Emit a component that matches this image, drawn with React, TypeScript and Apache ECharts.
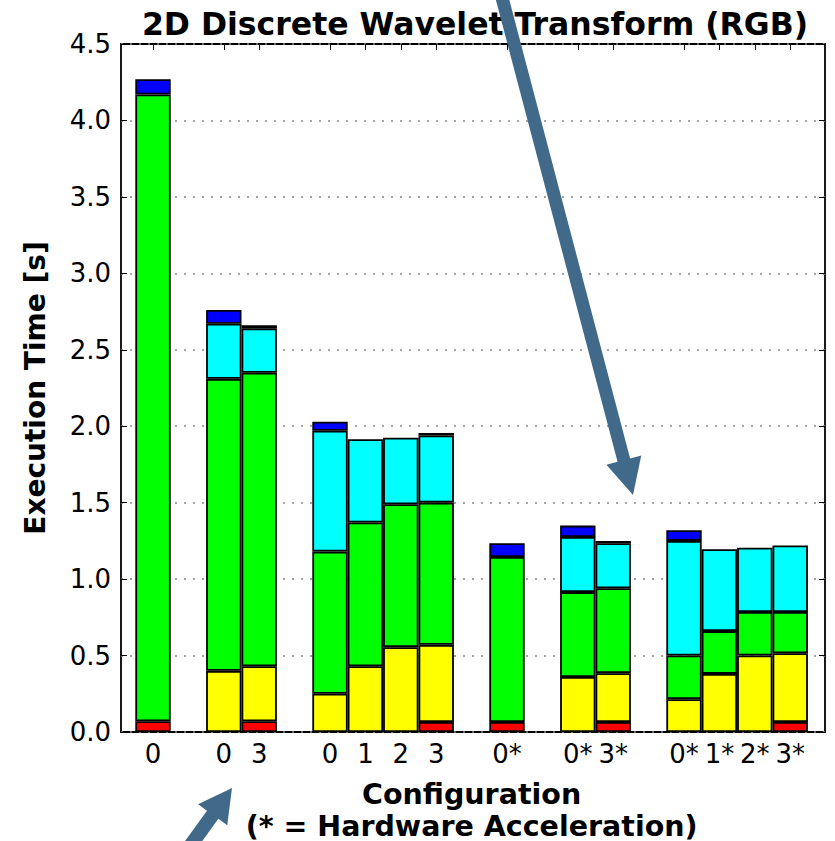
import React, { useEffect, useRef } from "react";
import * as echarts from "echarts";

const categories = ["0", "", "0", "3", "", "0", "1", "2", "3", "", "0*", "", "0*", "3*", "", "0*", "1*", "2*", "3*"];
const red = [0.07, null, null, 0.07, null, null, null, null, 0.065, null, 0.065, null, null, 0.065, null, null, null, null, 0.065];
const yellow = [null, null, 0.4, 0.36, null, 0.25, 0.43, 0.555, 0.505, null, null, null, 0.36, 0.32, null, 0.215, 0.38, 0.5, 0.45];
const green = [4.1, null, 1.91, 1.92, null, 0.93, 0.94, 0.935, 0.93, null, 1.08, null, 0.555, 0.555, null, 0.285, 0.28, 0.285, 0.27];
const cyan = [null, null, 0.36, 0.29, null, 0.79, 0.545, 0.435, 0.44, null, null, null, 0.36, 0.295, null, 0.75, 0.535, 0.42, 0.435];
const blue = [0.1, null, 0.09, 0.02, null, 0.06, null, null, 0.015, null, 0.09, null, 0.075, 0.015, null, 0.07, null, null, null];

const seriesDefs = [
  { name: "red", data: red, color: "#ff0000" },
  { name: "yellow", data: yellow, color: "#ffff00" },
  { name: "green", data: green, color: "#00ff00" },
  { name: "cyan", data: cyan, color: "#00ffff" },
  { name: "blue", data: blue, color: "#0000ff" },
];

const FONT = "DejaVu Sans";

function arrowPoints(tail: number[], tip: number[], shaftW: number, headW: number, headL: number) {
  const dx = tip[0] - tail[0];
  const dy = tip[1] - tail[1];
  const len = Math.sqrt(dx * dx + dy * dy);
  const ux = dx / len, uy = dy / len;
  const px = -uy, py = ux;
  const bx = tip[0] - ux * headL, by = tip[1] - uy * headL;
  const s = shaftW / 2, h = headW / 2;
  return [
    [tail[0] + px * s, tail[1] + py * s],
    [bx + px * s, by + py * s],
    [bx + px * h, by + py * h],
    [tip[0], tip[1]],
    [bx - px * h, by - py * h],
    [bx - px * s, by - py * s],
    [tail[0] - px * s, tail[1] - py * s],
  ];
}

export default function App() {
  const ref = useRef<HTMLDivElement>(null);
  useEffect(() => {
    if (!ref.current) return;
    const chart = echarts.init(ref.current, null, { renderer: "svg" });
    const frame = { left: 121, top: 44, width: 704, height: 688 };
    const bars = { left: 135.3, top: 44, width: 672.6, height: 688 };
    const arrowColor = "#41698a";
    chart.setOption({
      animation: false,
      backgroundColor: "#ffffff",
      title: {
        text: "2D Discrete Wavelet Transform (RGB)",
        left: 470,
        top: 3,
        textAlign: "center",
        textStyle: { fontFamily: FONT, fontWeight: "bold", fontSize: 31.5, color: "#000" },
      },
      grid: [
        { ...frame, show: true, borderColor: "#000", borderWidth: 1.8, backgroundColor: "transparent", containLabel: false, outerBoundsMode: "none" },
        { ...bars, containLabel: false, outerBoundsMode: "none" },
      ],
      xAxis: [
        { gridIndex: 0, type: "value", min: 0, max: 1, show: false },
        {
          gridIndex: 1,
          type: "category",
          data: categories,
          position: "bottom",
          axisLine: { show: false },
          axisTick: { show: false },
          axisLabel: { interval: 0, margin: 9, fontFamily: FONT, fontSize: 26, color: "#000" },
          name: "Configuration\n(* = Hardware Acceleration)",
          nameLocation: "middle",
          nameGap: 46,
          nameTextStyle: { fontFamily: FONT, fontWeight: "bold", fontSize: 28.5, color: "#000", lineHeight: 32 },
        },
        {
          gridIndex: 1,
          type: "category",
          data: categories,
          position: "top",
          axisLine: { show: false },
          axisLabel: { show: false },
          axisTick: {
            show: true,
            inside: true,
            length: 6,
            alignWithLabel: true,
            interval: (i: number) => categories[i] !== "",
            lineStyle: { color: "#000", width: 1 },
          },
        },
      ],
      yAxis: [
        {
          gridIndex: 0,
          type: "value",
          min: 0,
          max: 4.5,
          interval: 0.5,
          axisLine: { show: false },
          axisTick: { show: true, inside: true, length: 6, lineStyle: { color: "#000" } },
          axisLabel: {
            margin: 10,
            fontFamily: FONT,
            fontSize: 26,
            color: "#000",
            formatter: (v: number) => v.toFixed(1),
          },
          splitLine: { show: true, lineStyle: { color: "#888", type: [2, 7], width: 1.5 } },
          name: "Execution Time [s]",
          nameLocation: "middle",
          nameGap: 72,
          nameTextStyle: { fontFamily: FONT, fontWeight: "bold", fontSize: 28, color: "#000" },
        },
        { gridIndex: 1, type: "value", min: 0, max: 4.5, interval: 0.5, show: false },
        {
          gridIndex: 0,
          type: "value",
          position: "right",
          min: 0,
          max: 4.5,
          interval: 0.5,
          axisLine: { show: false },
          axisLabel: { show: false },
          splitLine: { show: false },
          axisTick: { show: true, inside: true, length: 6, lineStyle: { color: "#000" } },
        },
      ],
      series: seriesDefs.map((s) => ({
        name: s.name,
        type: "bar",
        xAxisIndex: 1,
        yAxisIndex: 1,
        stack: "total",
        barCategoryGap: "0%",
        data: s.data,
        itemStyle: { color: s.color, borderColor: "#000", borderWidth: 1.8 },
      })),
      graphic: [
        {
          type: "polygon",
          z: 100,
          shape: { points: arrowPoints([500, -10], [633, 495], 13, 36, 36) },
          style: { fill: arrowColor },
        },
        {
          type: "polygon",
          z: 100,
          shape: { points: arrowPoints([185, 853], [232, 788], 14, 36, 33) },
          style: { fill: arrowColor },
        },
      ],
    });
    return () => chart.dispose();
  }, []);
  return (
    <div
      ref={ref}
      style={{ position: "fixed", left: 0, top: 0, width: 835, height: 841, background: "#fff" }}
    />
  );
}
